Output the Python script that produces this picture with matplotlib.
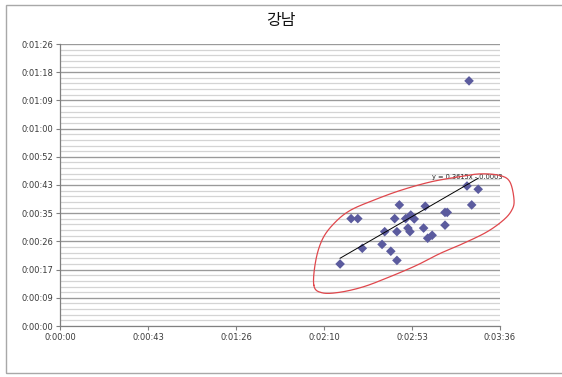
import numpy as np
import matplotlib
matplotlib.use("Agg")
import matplotlib.pyplot as plt
from matplotlib.patches import Rectangle
from matplotlib.ticker import FixedLocator, FuncFormatter

plt.rcParams['font.family'] = ['Noto Sans CJK KR', 'DejaVu Sans']

TITLE = "강남"

# times in seconds
x_sec = [137.5, 142.9, 146.2, 148.4, 158.1, 159.4, 162.4, 165.4, 164.3, 165.4,
         166.6, 169.7, 170.8, 171.8, 172.2, 173.9, 178.5, 179.3, 180.5, 182.7,
         189.0, 190.1, 189.0, 199.8, 205.3, 202.1, 200.8]
y_sec = [19.0, 32.9, 32.9, 23.8, 25.0, 28.9, 22.9, 20.1, 32.9, 28.9,
         37.1, 32.9, 30.0, 28.9, 34.0, 32.8, 30.0, 36.7, 26.9, 27.8,
         34.8, 34.8, 30.9, 42.9, 41.9, 37.1, 75.1]

# linear trend (both axes in days)
trend_slope = 0.3615
trend_intercept = -0.000335

# hand-drawn highlight outline (seconds)
outline_x = [124.6, 125.6, 129.0, 134.8, 142.4, 153.8, 166.9, 181.6, 194.7, 206.2,
             216.0, 220.9, 222.9, 221.7, 217.6, 209.5, 198.0, 186.5, 175.1, 162.0,
             148.9, 137.0, 128.5]
outline_y = [12.5, 20.2, 26.8, 31.6, 35.4, 38.5, 41.5, 44.1, 45.6, 46.6,
             46.1, 44.1, 38.5, 35.4, 32.4, 28.8, 25.3, 22.2, 18.6, 15.1,
             12.0, 10.3, 10.2]

DAY = 86400.0
x_ticks = [0, 0.0005, 0.001, 0.0015, 0.002, 0.0025]   # days
y_ticks = [i * 0.0001 for i in range(11)]              # days


def hms(v, pos=None):
    s = int(round(v))
    return f"{s // 3600}:{(s % 3600) // 60:02d}:{s % 60:02d}"


def smooth_closed(px, py, n=20):
    px = np.asarray(px, float)
    py = np.asarray(py, float)
    m = len(px)
    ox, oy = [], []
    for i in range(m):
        p0 = np.array([px[i - 1], py[i - 1]])
        p1 = np.array([px[i], py[i]])
        p2 = np.array([px[(i + 1) % m], py[(i + 1) % m]])
        p3 = np.array([px[(i + 2) % m], py[(i + 2) % m]])
        for t in np.linspace(0, 1, n, endpoint=False):
            t2, t3 = t * t, t * t * t
            pt = 0.5 * ((2 * p1) + (-p0 + p2) * t +
                        (2 * p0 - 5 * p1 + 4 * p2 - p3) * t2 +
                        (-p0 + 3 * p1 - 3 * p2 + p3) * t3)
            ox.append(pt[0])
            oy.append(pt[1])
    ox.append(ox[0])
    oy.append(oy[0])
    return ox, oy


fig = plt.figure(figsize=(5.62, 3.77), dpi=100)
fig.patches.append(Rectangle((6 / 562, 4 / 377), 1.2, 368 / 377,
                             transform=fig.transFigure, fill=False,
                             edgecolor="#a8a8a8", linewidth=1.0, zorder=0))

ax = fig.add_axes([60 / 562, (377 - 326) / 377, 440 / 562, 282 / 377])
ax.set_xlim(0, x_ticks[-1] * DAY)
ax.set_ylim(0, y_ticks[-1] * DAY)

# gridlines
minor_y = np.arange(0, y_ticks[-1] * DAY + 0.01, 0.00002 * DAY)
for v in minor_y:
    ax.axhline(v, color="#d4d4d4", linewidth=0.9, zorder=0)
for v in y_ticks[1:]:
    ax.axhline(v * DAY, color="#9a9a9a", linewidth=0.9, zorder=0.5)

ax.xaxis.set_major_locator(FixedLocator([v * DAY for v in x_ticks]))
ax.yaxis.set_major_locator(FixedLocator([v * DAY for v in y_ticks]))
ax.xaxis.set_major_formatter(FuncFormatter(hms))
ax.yaxis.set_major_formatter(FuncFormatter(hms))
ax.tick_params(axis="both", direction="out", length=3, width=0.8,
               color="#808080", labelsize=6, labelcolor="#3a3a3a", pad=2)
for lbl in ax.get_xticklabels() + ax.get_yticklabels():
    lbl.set_family("DejaVu Sans")

for side in ("top", "right"):
    ax.spines[side].set_visible(False)
for side in ("left", "bottom"):
    ax.spines[side].set_color("#808080")
    ax.spines[side].set_linewidth(0.9)

ax.scatter(x_sec, y_sec, marker="D", s=24, color="#5b5b9e", edgecolors="none",
           zorder=3)

# trendline across the data range
tx = np.array([min(x_sec), max(x_sec)])
ty = (trend_slope * (tx / DAY) + trend_intercept) * DAY
ax.plot(tx, ty, color="black", linewidth=0.7, zorder=4)
ax.text(182.6, 45.6, f"y = {trend_slope:.4f}x - {abs(trend_intercept):.4f}",
        fontsize=4.8, color="#222222", ha="left", va="center", zorder=5,
        family="DejaVu Sans")

ox, oy = smooth_closed(outline_x, outline_y)
ax.plot(ox, oy, color="#e0474c", linewidth=0.9, clip_on=False, zorder=6)

fig.text(0.5, 1 - 20 / 377, TITLE, ha="center", va="center", fontsize=11.5,
         color="#111111")

fig.savefig("out.png", dpi=100)
